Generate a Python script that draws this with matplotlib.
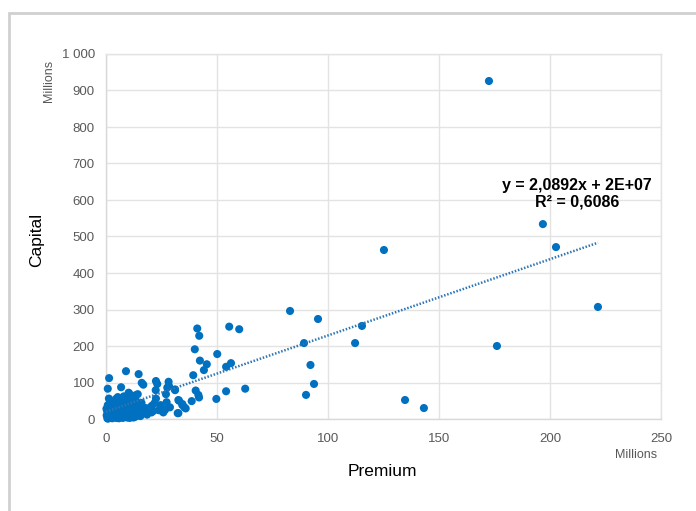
import matplotlib
matplotlib.use("Agg")
import matplotlib.pyplot as plt
from matplotlib.patches import Rectangle
import numpy as np

# Premium (millions)
premium = [
    172.5, 196.8, 202.7, 125.2, 221.6, 176.1, 82.9, 95.5, 115.3, 112.2, 89.2, 92.1, 93.7, 90.1, 134.7, 143.2,
    41.1, 42.0, 55.5, 60.0, 40.0, 50.1, 42.3, 45.4, 44.1, 54.1, 56.3, 39.3, 62.7, 54.1, 49.7, 40.4, 41.6, 41.9,
    38.6, 31.1, 32.9, 34.4, 35.9, 32.3,
    9.0, 14.7, 1.4, 16.1, 16.8, 22.5, 23.1, 28.2, 28.4, 0.8, 6.8, 22.4, 27.6, 31.1, 27.0, 32.6, 14.3, 22.5,
    21.8, 20.6, 32.6, 35.3, 34.4, 27.3, 26.6, 28.8, 9.5, 10.2, 11.8, 12.6, 13.5, 15.4, 17.8, 19.2, 24.6, 25.3,
    # dense cluster near origin
    0.3, 0.5, 0.8, 1.0, 1.2, 1.5, 1.8, 2.0, 2.3, 2.6, 2.9, 3.2, 3.5, 3.8, 4.1, 4.4, 4.7, 5.0, 5.3, 5.6,
    5.9, 6.2, 6.5, 6.8, 7.1, 7.4, 7.7, 8.0, 8.3, 8.6, 8.9, 9.2, 9.6, 10.0, 10.4, 10.8, 11.2, 11.6, 12.0, 12.5,
    13.0, 13.5, 14.0, 14.6, 15.2, 15.8, 16.5, 17.2, 18.0, 18.8, 19.6, 20.5, 21.3, 0.6, 1.1, 1.7, 2.4, 3.0,
    3.6, 4.2, 4.9, 5.5, 6.1, 6.8, 7.5, 8.2, 8.9, 9.7, 10.5, 11.3, 12.2, 13.1, 14.2, 15.5, 0.2, 0.9, 1.6,
    2.2, 2.8, 3.4, 4.0, 4.6, 5.2, 5.8, 6.4, 7.0, 7.6, 8.4, 9.1, 9.9, 10.7, 11.5, 12.4, 13.3, 2.0, 3.3, 4.5,
    5.7, 7.2, 8.5, 10.1, 11.9, 1.3, 16.0, 18.5, 20.0, 23.8, 25.8,
]
# Capital (millions)
capital = [
    926, 534, 471, 463, 307, 200, 296, 274, 255, 208, 208, 148, 96, 66, 52, 30,
    248, 228, 253, 246, 191, 178, 160, 150, 134, 143, 153, 120, 83, 76, 55, 78, 66, 59,
    49, 79, 50, 38, 29, 16,
    131, 123, 112, 99, 94, 104, 96, 102, 90, 83, 87, 79, 86, 81, 68, 52, 68, 56,
    43, 36, 16, 32, 41, 46, 25, 32, 58, 72, 62, 48, 44, 40, 30, 26, 38, 28,
    # dense cluster near origin
    10, 22, 38, 5, 15, 30, 12, 45, 8, 25, 18, 40, 6, 33, 14, 50, 22, 9, 60, 28,
    12, 42, 20, 55, 8, 35, 16, 62, 26, 10, 48, 20, 36, 14, 70, 28, 10, 44, 22, 32,
    12, 50, 24, 18, 36, 14, 28, 20, 16, 24, 30, 18, 22, 2, 4, 18, 3, 22,
    6, 28, 4, 12, 36, 5, 24, 6, 30, 4, 18, 7, 14, 6, 10, 8, 28, 1, 8,
    12, 2, 16, 10, 3, 20, 2, 8, 15, 3, 52, 5, 12, 3, 18, 4, 65, 34, 45, 55,
    40, 50, 42, 55, 38, 56, 44, 12, 20, 24, 18,
]

slope = 2.0892      # from trendline label
intercept = 20.0    # 2E+07 -> 20 millions

x_ticks = [0, 50, 100, 150, 200, 250]
y_ticks = [0, 100, 200, 300, 400, 500, 600, 700, 800, 900, 1000]
y_tick_labels = ["0", "100", "200", "300", "400", "500", "600", "700", "800", "900", "1 000"]

plt.rcParams['font.family'] = ['Liberation Sans', 'DejaVu Sans']

fig = plt.figure(figsize=(6.96, 5.11), dpi=100)
W, H = 696, 511
ax = fig.add_axes([106 / W, 1 - 419 / H, (661 - 106) / W, (419 - 54) / H])

# outer chart border
fig.patches.append(Rectangle((9 / W, -0.1), 1.2, 1 - 13 / H + 0.1, transform=fig.transFigure,
                             fill=False, edgecolor='#D0D0D0', linewidth=2.0, zorder=0))

ax.set_xlim(0, 250)
ax.set_ylim(0, 1000)
ax.set_xticks(x_ticks)
ax.set_yticks(y_ticks)
ax.set_yticklabels(y_tick_labels)
ax.grid(True, color='#E3E3E3', linewidth=1.0)
ax.set_axisbelow(True)
for s in ['top', 'right']:
    ax.spines[s].set_color('#E3E3E3')
    ax.spines[s].set_linewidth(1.0)
for s in ['bottom', 'left']:
    ax.spines[s].set_color('#D9D9D9')
    ax.spines[s].set_linewidth(1.0)
ax.tick_params(axis='both', length=0, labelsize=9.5, labelcolor='#595959')
ax.tick_params(axis='x', pad=10)
ax.tick_params(axis='y', pad=8)

ax.scatter(premium, capital, s=34, color='#0070C0', edgecolors='none', zorder=3, clip_on=False)

xs = np.array([0, max(premium)])
ax.plot(xs, slope * xs + intercept, color='#2E75B6', linewidth=1.8, linestyle=(0, (0.6, 0.7)),
        zorder=4)

ax.text(212.2, 641, "y = 2,0892x + 2E+07", ha='center', va='center', fontsize=11.5, fontweight='bold',
        color='#000000')
ax.text(212.2, 594, "R² = 0,6086", ha='center', va='center', fontsize=11.5, fontweight='bold',
        color='#000000')

fig.text(37 / W, 1 - 240 / H, "Capital", rotation=90, ha='center', va='center', fontsize=12.5,
         color='#000000')
fig.text(382 / W, 1 - 472 / H, "Premium", ha='center', va='center', fontsize=12.5, color='#000000')
fig.text(49 / W, 1 - 81 / H, "Millions", rotation=90, ha='center', va='center', fontsize=9,
         color='#595959')
fig.text(636 / W, 1 - 455 / H, "Millions", ha='center', va='center', fontsize=9, color='#595959')

fig.savefig("out.png", dpi=100)
